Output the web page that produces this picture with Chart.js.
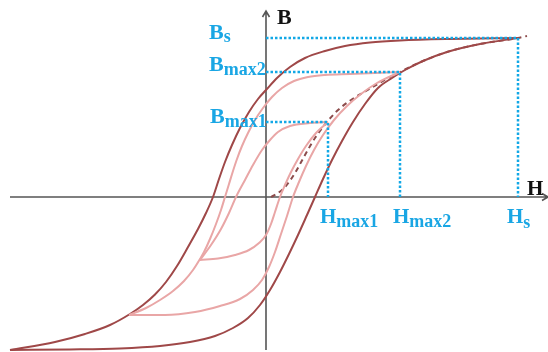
<!DOCTYPE html>
<html>
<head>
<meta charset="utf-8">
<script src="https://cdn.jsdelivr.net/npm/chart.js@4/dist/chart.umd.min.js"></script>
<style>
  html, body { margin: 0; padding: 0; background: #ffffff; }
  #wrap { width: 548px; height: 352px; position: relative; }
</style>
</head>
<body>
<div id="wrap"><canvas id="c"></canvas></div>
<script>
// Magnetic hysteresis: major loop, two minor loops and the initial magnetisation curve.
// Field H and flux density B in arbitrary units (origin at the axis crossing).

// Characteristic points
const Hs = 252, Bs = 159;        // saturation
const Hmax2 = 134, Bmax2 = 125;  // second minor loop tip
const Hmax1 = 62, Bmax1 = 75;    // first minor loop tip

// Major loop, descending branch (from +saturation to -saturation)
const majorDownH = [252, 184, 134, 104, 79, 59, 39, 24, 11, 0, -8, -17, -26, -34, -41, -47, -53, -60, -68, -78, -89, -100, -111, -123, -136, -156, -181, -211, -256];
const majorDownB = [159, 158, 156.5, 154.5, 151, 146, 139, 130, 119, 107, 98, 85, 69, 52, 35, 18, 0, -16, -32, -50, -69, -85, -97.5, -108, -117, -128, -137, -145, -153];

// Major loop, ascending branch
const majorUpH = [-256, -196, -146, -106, -76, -51, -33, -18, -6, 4, 14, 23, 32, 41, 49, 57, 66, 76, 87, 99, 112, 126, 139, 157, 181, 214, 252];
const majorUpB = [-153, -152.5, -151.5, -149, -145, -139, -131, -121, -108, -93, -75, -57, -38, -18, 0, 18, 37, 56, 75, 93, 109, 119, 127, 136, 145, 153, 159];

// Minor loop 2
const loop2DownH = [134, 84, 59, 42, 28, 16, 6, -3, -11, -18, -24, -29, -33, -37, -41, -45, -50, -56, -62, -66, -73, -82, -93, -106, -120, -137];
const loop2DownB = [125, 123, 122, 120, 116, 109, 100, 89, 77, 64, 51, 38, 26, 13, 0, -13, -27, -42, -55, -62, -73, -84, -94, -103, -111, -118];
const loop2UpH = [-137, -101, -71, -46, -26, -13, -4, 3, 9, 15, 21, 27, 33, 40, 48, 57, 68, 81, 95, 111, 134];
const loop2UpB = [-118, -118, -115, -109, -102, -93, -83, -70, -55, -37, -19, 0, 15, 31, 47, 62, 77, 91, 103, 114, 125];

// Minor loop 1
const loop1DownH = [62, 44, 24, 12, 4, -4, -13, -21, -30, -37, -45, -55, -66];
const loop1DownB = [75, 74, 71, 65, 57, 47, 32, 17, 0, -16, -32, -48, -63];
const loop1UpH = [-66, -48, -31, -17, -7, 0, 5, 9, 14, 19, 25, 32, 40, 50, 62];
const loop1UpB = [-63, -61.5, -58, -53, -46, -38, -27, -15, 0, 12, 25, 38, 51, 64, 75];

// Initial magnetisation curve
const initH = [5, 12, 19, 29, 39, 49, 61, 72, 85, 100, 117, 134, 157, 181, 214, 252, 261];
const initB = [0, 4, 10, 24, 42, 59, 75, 87, 97, 106, 116, 125, 136, 145, 153, 159, 161];

// Axis extents
const axisH = [-256, 282];
const axisB = [-153, 186];

const DARK = '#9f4848';
const PINK = '#e9a6a6';
const DASH = '#8c4b4b';
const BLUE = '#12a8e6';
const BLUE_TEXT = '#19a6e4';
const AXIS = '#555555';

const pts = (hs, bs) => hs.map((h, i) => ({ x: h, y: bs[i] }));

function curve(hs, bs, color, extra) {
  return Object.assign({
    data: pts(hs, bs),
    borderColor: color,
    borderWidth: 2,
    pointRadius: 0,
    showLine: true,
    fill: false,
    cubicInterpolationMode: 'monotone',
    clip: false
  }, extra || {});
}

function guide(h, b) {
  return {
    data: [{ x: 0, y: b }, { x: h, y: b }, { x: h, y: 0 }],
    borderColor: BLUE,
    borderWidth: 2.5,
    borderDash: [2.5, 2],
    pointRadius: 0,
    showLine: true,
    fill: false,
    tension: 0,
    clip: false
  };
}

// Axes with arrowheads, drawn under the curves
const axesPlugin = {
  id: 'axes',
  beforeDatasetsDraw(chart) {
    const { ctx, scales: { x, y } } = chart;
    const x0 = x.getPixelForValue(0), y0 = y.getPixelForValue(0);
    const xl = x.getPixelForValue(axisH[0]), xr = x.getPixelForValue(axisH[1]);
    const yb = y.getPixelForValue(axisB[0]), yt = y.getPixelForValue(axisB[1]);
    ctx.save();
    ctx.strokeStyle = AXIS;
    ctx.lineWidth = 1.6;
    ctx.beginPath();
    ctx.moveTo(xl, y0); ctx.lineTo(xr, y0);
    ctx.moveTo(x0, yb); ctx.lineTo(x0, yt);
    // arrowheads
    ctx.moveTo(xr - 6, y0 - 3.5); ctx.lineTo(xr, y0); ctx.lineTo(xr - 6, y0 + 3.5);
    ctx.moveTo(x0 - 3.5, yt + 6); ctx.lineTo(x0, yt); ctx.lineTo(x0 + 3.5, yt + 6);
    ctx.stroke();
    ctx.restore();
  }
};

function subText(ctx, main, sub, x, y, color, mainSize, subSize, drop) {
  ctx.fillStyle = color;
  ctx.textAlign = 'left';
  ctx.textBaseline = 'alphabetic';
  ctx.font = 'bold ' + mainSize + 'px "Liberation Serif", serif';
  ctx.fillText(main, x, y);
  const w = ctx.measureText(main).width;
  if (sub) {
    ctx.font = 'bold ' + subSize + 'px "Liberation Serif", serif';
    ctx.fillText(sub, x + w, y + drop);
  }
}

// Axis titles and characteristic-point labels
const labelPlugin = {
  id: 'labels',
  afterDatasetsDraw(chart) {
    const { ctx, scales: { x, y } } = chart;
    const x0 = x.getPixelForValue(0), y0 = y.getPixelForValue(0);
    ctx.save();
    subText(ctx, 'B', '', x0 + 11, y.getPixelForValue(axisB[1]) + 13, '#111', 22, 0, 0);
    subText(ctx, 'H', '', x.getPixelForValue(axisH[1]) - 21, y0 - 2, '#111', 21, 0, 0);

    const bx = x0 - 57;
    subText(ctx, 'B', 's', bx, y.getPixelForValue(Bs) + 1, BLUE_TEXT, 22, 18, 3);
    subText(ctx, 'B', 'max2', bx, y.getPixelForValue(Bmax2) - 1, BLUE_TEXT, 22, 18, 4);
    subText(ctx, 'B', 'max1', bx + 1, y.getPixelForValue(Bmax1) + 1, BLUE_TEXT, 22, 18, 4);

    const hy = y0 + 26;
    subText(ctx, 'H', 'max1', x.getPixelForValue(Hmax1) - 8, hy, BLUE_TEXT, 21, 18, 4);
    subText(ctx, 'H', 'max2', x.getPixelForValue(Hmax2) - 7, hy, BLUE_TEXT, 21, 18, 4);
    subText(ctx, 'H', 's', x.getPixelForValue(Hs) - 11, hy, BLUE_TEXT, 21, 18, 5);
    ctx.restore();
  }
};

new Chart(document.getElementById('c'), {
  type: 'scatter',
  data: {
    datasets: [
      guide(Hs, Bs),
      guide(Hmax2, Bmax2),
      guide(Hmax1, Bmax1),
      curve(loop1DownH, loop1DownB, PINK),
      curve(loop1UpH, loop1UpB, PINK),
      curve(loop2DownH, loop2DownB, PINK),
      curve(loop2UpH, loop2UpB, PINK),
      curve(majorDownH, majorDownB, DARK),
      curve(majorUpH, majorUpB, DARK),
      curve(initH, initB, DASH, { borderDash: [5, 4], borderWidth: 2 })
    ]
  },
  options: {
    responsive: true,
    maintainAspectRatio: false,
    animation: false,
    layout: { padding: 0 },
    plugins: { legend: { display: false }, tooltip: { enabled: false } },
    scales: {
      x: { type: 'linear', min: -266, max: 282, display: false },
      y: { type: 'linear', min: -155, max: 197, display: false }
    }
  },
  plugins: [axesPlugin, labelPlugin]
});
</script>
</body>
</html>
